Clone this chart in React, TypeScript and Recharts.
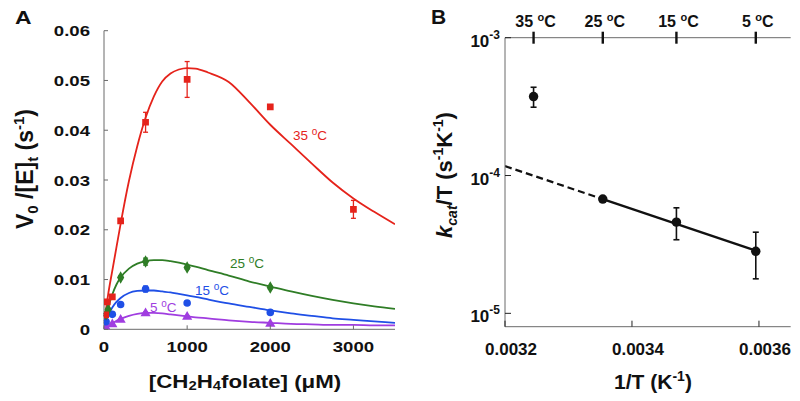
import { ComposedChart, ErrorBar, Line, Scatter, XAxis, YAxis, ZAxis } from "recharts"

// Panel A: fitted curves, read at these substrate concentrations (µM)
const curveSubstrate = [0, 25, 50, 100, 150, 200, 300, 400, 500, 600, 700, 800, 900, 1000, 1100, 1250, 1500, 1750, 2000, 2250, 2500, 2750, 3000, 3250, 3500]
const curve35 = [0, 0.004, 0.007, 0.0118, 0.0165, 0.0212, 0.0298, 0.0368, 0.0425, 0.0468, 0.0498, 0.0514, 0.0522, 0.0525, 0.0524, 0.0516, 0.0497, 0.0456, 0.0411, 0.0372, 0.0333, 0.0295, 0.0263, 0.0236, 0.0211]
const curve25 = [0, 0.0025, 0.0043, 0.007, 0.009, 0.0104, 0.0122, 0.0132, 0.0137, 0.0139, 0.0139, 0.0137, 0.0134, 0.013, 0.0126, 0.0119, 0.0108, 0.0096, 0.0086, 0.0076, 0.0067, 0.0059, 0.0052, 0.0046, 0.0041]
const curve15 = [0, 0.0016, 0.0028, 0.0044, 0.0055, 0.0063, 0.0073, 0.0077, 0.0078, 0.0078, 0.0076, 0.0074, 0.0071, 0.0068, 0.0065, 0.006, 0.0052, 0.0045, 0.0038, 0.0032, 0.0027, 0.0022, 0.0019, 0.0016, 0.0013]
const curve5 = [0, 0.0004, 0.0007, 0.0012, 0.0017, 0.0021, 0.0027, 0.0031, 0.0033, 0.0033, 0.0032, 0.003, 0.0028, 0.0026, 0.0024, 0.0022, 0.0018, 0.0015, 0.0013, 0.0011, 0.001, 0.0009, 0.0009, 0.0008, 0.0008]

// Panel A: measured points
const subst35 = [20, 40, 100, 200, 500, 1000, 2000, 3000]
const rate35 = [0.0029, 0.0055, 0.0065, 0.0218, 0.0416, 0.0502, 0.0447, 0.0241]
const err35 = [0.0002, 0.0002, 0.0002, 0.0004, 0.002, 0.0036, 0.0003, 0.0018]
const subst25 = [25, 50, 200, 500, 1000, 2000]
const rate25 = [0.003, 0.004, 0.0104, 0.0136, 0.0124, 0.0084]
const err25 = [0.0002, 0.0002, 0.0003, 0.0007, 0.0003, 0.0003]
const subst15 = [25, 100, 200, 500, 1000, 2000]
const rate15 = [0.0015, 0.003, 0.005, 0.0081, 0.0053, 0.0034]
const err15 = [0.0002, 0.0002, 0.0002, 0.0006, 0.0003, 0.0002]
const subst5 = [25, 100, 200, 500, 1000, 2000]
const rate5 = [0.0003, 0.001, 0.0019, 0.0032, 0.0025, 0.0011]
const err5 = [0.0001, 0.0001, 0.0002, 0.0003, 0.0002, 0.0002]

const xTicksA = [0, 1000, 2000, 3000]
const yTicksA = [0, 0.01, 0.02, 0.03, 0.04, 0.05, 0.06]

// Panel B: Eyring plot
const invT = [0.003245, 0.003354, 0.00347, 0.003595]
const kcatOverT = [3.74e-4, 6.75e-5, 4.59e-5, 2.82e-5]
const kcatErrLow = [0.61e-4, 0, 1.17e-5, 1.04e-5]
const kcatErrHigh = [0.63e-4, 0, 1.24e-5, 1.06e-5]
const fitSolidX = [0.003354, 0.003595]
const fitSolidY = [6.75e-5, 2.85e-5]
const fitDashX = [0.0032, 0.003354]
const fitDashY = [1.17e-4, 6.75e-5]
const xTicksB = [0.0032, 0.0034, 0.0036]
const yTicksB = [1e-5, 1e-4, 1e-3]
const tempTickPos = [0.003245, 0.003354, 0.00347, 0.003595]
const tempTickLabels = ["35", "25", "15", "5"]

const RED = "#e5231b"
const GREEN = "#2f7d26"
const BLUE = "#1f4fe6"
const PURPLE = "#a03de0"
const BOX = "#6b6b6b"
const INK = "#111"
const STRETCH = 1.24 // panel A text is horizontally widened in the original

const font = "'Liberation Sans', Arial, sans-serif"

const curveData = curveSubstrate.map((x, i) => ({
  x,
  c35: curve35[i],
  c25: curve25[i],
  c15: curve15[i],
  c5: curve5[i],
}))

const pts = (xs: number[], ys: number[], es: number[]) => xs.map((x, i) => ({ x, y: ys[i], e: es[i] }))

const pointsB = invT.map((x, i) => ({ x, y: kcatOverT[i], e: [kcatErrLow[i], kcatErrHigh[i]] }))
const solidB = fitSolidX.map((x, i) => ({ x, y: fitSolidY[i] }))
const dashB = fitDashX.map((x, i) => ({ x, y: fitDashY[i] }))

// tick with an inward mark; label drawn by renderLabel
function InTick(props: any) {
  const { x, y, payload, side, gap = 0, markLen = 4, markColor = BOX, markWidth = 1, renderLabel } = props
  let line = null
  if (side === "left") line = <line x1={x + gap} x2={x + gap + markLen} y1={y} y2={y} />
  if (side === "right") line = <line x1={x - gap} x2={x - gap - markLen} y1={y} y2={y} />
  if (side === "bottom") line = <line x1={x} x2={x} y1={y - gap} y2={y - gap - markLen} />
  if (side === "top") line = <line x1={x} x2={x} y1={y + gap} y2={y + gap + markLen} />
  return (
    <g>
      <g stroke={markColor} strokeWidth={markWidth}>
        {line}
      </g>
      {renderLabel ? renderLabel(x, y, payload.value) : null}
    </g>
  )
}

const labelA = (anchor: "end" | "middle", dy: number) => (x: number, y: number, v: number) => (
  <text
    transform={`translate(${x} ${y + dy}) scale(${STRETCH} 1)`}
    textAnchor={anchor}
    fontFamily={font}
    fontWeight={700}
    fontSize={15}
    fill={INK}
  >
    {v === 0 ? "0" : anchor === "end" ? v.toFixed(2) : String(v)}
  </text>
)

const logLabel = (x: number, y: number, v: number) => (
  <text x={x} y={y + 9} textAnchor="end" fontFamily={font} fontWeight={700} fontSize={17} fill={INK}>
    10
    <tspan dy={-8} fontSize={12}>
      {Math.round(Math.log10(v))}
    </tspan>
  </text>
)

const bottomLabelB = (x: number, y: number, v: number) => (
  <text x={x + 6} y={y + 12} textAnchor="middle" fontFamily={font} fontWeight={700} fontSize={17} fill={INK}>
    {v.toFixed(4)}
  </text>
)

function TempTick(props: any) {
  const { x, y, payload } = props
  const i = tempTickPos.indexOf(payload.value)
  return (
    <g>
      <line x1={x} x2={x} y1={y - 6} y2={y + 6} stroke={INK} strokeWidth={2.4} />
      <text x={x + 2} y={y - 11} textAnchor="middle" fontFamily={font} fontWeight={700} fontSize={16} fill={INK}>
        {tempTickLabels[i]}{" "}
        <tspan dy={-6} fontSize={11}>
          o
        </tspan>
        <tspan dy={6}>C</tspan>
      </text>
    </g>
  )
}

function PanelA() {
  return (
    <ComposedChart width={400} height={401} margin={{ top: 30.7, right: 5, bottom: 31.7, left: 0 }}>
      <ZAxis range={[45, 45]} />
      <XAxis
        xAxisId={0}
        dataKey="x"
        type="number"
        domain={[0, 3500]}
        allowDataOverflow
        ticks={xTicksA}
        interval={0}
        height={40}
        tickSize={0}
        tickMargin={12}
        tickLine={false}
        tick={<InTick side="bottom" gap={12} renderLabel={labelA("middle", 11)} />}
        axisLine={{ stroke: BOX }}
      />
      <XAxis
        xAxisId="top"
        orientation="top"
        dataKey="x"
        type="number"
        domain={[0, 3500]}
        allowDataOverflow
        ticks={[1000, 2000, 3000]}
        interval={0}
        height={0}
        tickSize={0}
        tickMargin={0}
        tickLine={false}
        tick={<InTick side="top" gap={0} />}
        axisLine={{ stroke: BOX }}
      />
      <YAxis
        yAxisId={0}
        dataKey="y"
        type="number"
        domain={[0, 0.06]}
        allowDataOverflow
        ticks={yTicksA}
        interval={0}
        width={104}
        tickSize={0}
        tickMargin={14}
        tickLine={false}
        tick={<InTick side="left" gap={14} renderLabel={labelA("end", 5.5)} />}
        axisLine={{ stroke: BOX }}
      />
      <YAxis
        yAxisId="right"
        orientation="right"
        type="number"
        domain={[0, 0.06]}
        allowDataOverflow
        ticks={yTicksA}
        interval={0}
        width={0}
        tickSize={0}
        tickMargin={0}
        tickLine={false}
        tick={<InTick side="right" gap={0} />}
        axisLine={{ stroke: BOX }}
      />
      <Line xAxisId="top" yAxisId="right" data={curveData} dataKey="c35" type="monotone" stroke={RED} strokeWidth={1.8} dot={false} activeDot={false} isAnimationActive={false} />
      <Line data={curveData} dataKey="c25" type="monotone" stroke={GREEN} strokeWidth={1.8} dot={false} activeDot={false} isAnimationActive={false} />
      <Line data={curveData} dataKey="c15" type="monotone" stroke={BLUE} strokeWidth={1.8} dot={false} activeDot={false} isAnimationActive={false} />
      <Line data={curveData} dataKey="c5" type="monotone" stroke={PURPLE} strokeWidth={1.8} dot={false} activeDot={false} isAnimationActive={false} />
      <Scatter data={pts(subst5, rate5, err5)} fill={PURPLE} shape="triangle" isAnimationActive={false}>
        <ErrorBar dataKey="e" direction="y" width={2.5} stroke={PURPLE} strokeWidth={1.3} isAnimationActive={false} />
      </Scatter>
      <Scatter data={pts(subst15, rate15, err15)} fill={BLUE} shape="circle" isAnimationActive={false}>
        <ErrorBar dataKey="e" direction="y" width={2.5} stroke={BLUE} strokeWidth={1.3} isAnimationActive={false} />
      </Scatter>
      <Scatter data={pts(subst25, rate25, err25)} fill={GREEN} shape="diamond" isAnimationActive={false}>
        <ErrorBar dataKey="e" direction="y" width={2.5} stroke={GREEN} strokeWidth={1.3} isAnimationActive={false} />
      </Scatter>
      <Scatter data={pts(subst35, rate35, err35)} fill={RED} shape="square" isAnimationActive={false}>
        <ErrorBar dataKey="e" direction="y" width={2.5} stroke={RED} strokeWidth={1.3} isAnimationActive={false} />
      </Scatter>
    </ComposedChart>
  )
}

function PanelB() {
  return (
    <ComposedChart width={400} height={401} margin={{ top: 7.7, right: 9.3, bottom: 34.3, left: 0 }}>
      <ZAxis range={[70, 70]} />
      <XAxis
        xAxisId={0}
        dataKey="x"
        type="number"
        domain={[0.0032, 0.00365]}
        allowDataOverflow
        ticks={xTicksB}
        interval={0}
        height={40}
        tickSize={0}
        tickMargin={16.6}
        tickLine={false}
        tick={<InTick side="bottom" gap={16.6} markLen={6} markColor="#222" renderLabel={bottomLabelB} />}
        axisLine={{ stroke: BOX }}
      />
      <XAxis
        xAxisId="top"
        orientation="top"
        dataKey="x"
        type="number"
        domain={[0.0032, 0.00365]}
        allowDataOverflow
        ticks={tempTickPos}
        interval={0}
        height={30}
        tickSize={0}
        tickMargin={0}
        tickLine={false}
        tick={<TempTick />}
        axisLine={{ stroke: BOX }}
      />
      <YAxis
        yAxisId={0}
        dataKey="y"
        type="number"
        scale="log"
        domain={[8e-6, 1e-3]}
        allowDataOverflow
        ticks={yTicksB}
        interval={0}
        width={105}
        tickSize={0}
        tickMargin={5}
        tickLine={false}
        tick={<InTick side="left" gap={5} markLen={6} markColor="#222" renderLabel={logLabel} />}
        axisLine={{ stroke: BOX }}
      />
      <YAxis
        yAxisId="right"
        orientation="right"
        dataKey="y"
        type="number"
        scale="log"
        domain={[8e-6, 1e-3]}
        allowDataOverflow
        ticks={yTicksB}
        interval={0}
        width={0}
        tickSize={0}
        tickMargin={0}
        tickLine={false}
        tick={<InTick side="right" gap={0} markLen={4} markColor="#222" />}
        axisLine={{ stroke: BOX }}
      />
      <Line xAxisId="top" yAxisId="right" data={dashB} dataKey="y" type="linear" stroke={INK} strokeWidth={2.2} strokeDasharray="7 4" dot={false} activeDot={false} isAnimationActive={false} />
      <Line data={solidB} dataKey="y" type="linear" stroke={INK} strokeWidth={2.4} dot={false} activeDot={false} isAnimationActive={false} />
      <Scatter data={pointsB} fill={INK} shape="circle" isAnimationActive={false}>
        <ErrorBar dataKey="e" direction="y" width={3} stroke={INK} strokeWidth={1.6} isAnimationActive={false} />
      </Scatter>
    </ComposedChart>
  )
}

function Degree({ label, x, y, color }: { label: string; x: number; y: number; color: string }) {
  return (
    <text x={x} y={y} fontFamily={font} fontSize={13.5} fill={color}>
      {label}{" "}
      <tspan dy={-5} fontSize={10}>
        o
      </tspan>
      <tspan dy={5}>C</tspan>
    </text>
  )
}

function Overlay() {
  return (
    <svg width={800} height={401} style={{ position: "absolute", left: 0, top: 0, pointerEvents: "none" }}>
      <text transform={`translate(15 23.5) scale(${STRETCH} 1)`} fontFamily={font} fontWeight={700} fontSize={18.5} fill={INK}>
        A
      </text>
      <text x={431} y={23.5} fontFamily={font} fontWeight={700} fontSize={21} fill={INK}>
        B
      </text>

      {/* panel A axis titles */}
      <text x={33} y={169} transform="rotate(-90, 33, 169)" textAnchor="middle" fontFamily={font} fontWeight={700} fontSize={23} fill={INK}>
        V<tspan dy={5} fontSize={15}>0</tspan>
        <tspan dy={-5}> /[E]</tspan>
        <tspan dy={5} fontSize={15}>t</tspan>
        <tspan dy={-5}> (s</tspan>
        <tspan dy={-9} fontSize={15}>-1</tspan>
        <tspan dy={9}>)</tspan>
      </text>
      <text transform={`translate(245 388) scale(${STRETCH} 1)`} textAnchor="middle" fontFamily={font} fontWeight={700} fontSize={18} fill={INK}>
        [CH<tspan dy={2} fontSize={12}>2</tspan>
        <tspan dy={-2}>H</tspan>
        <tspan dy={2} fontSize={12}>4</tspan>
        <tspan dy={-2}>folate] (μM)</tspan>
      </text>

      {/* series labels in panel A */}
      <Degree label="35" x={293} y={140} color={RED} />
      <Degree label="25" x={230} y={268} color={GREEN} />
      <Degree label="15" x={195} y={295} color={BLUE} />
      <Degree label="5" x={150} y={311.5} color={PURPLE} />

      {/* panel B axis titles */}
      <text x={452} y={175} transform="rotate(-90, 452, 175)" textAnchor="middle" fontFamily={font} fontWeight={700} fontSize={22} fill={INK}>
        <tspan fontStyle="italic">k</tspan>
        <tspan dy={5} fontSize={14} fontStyle="italic">cat</tspan>
        <tspan dy={-5}>/T (s</tspan>
        <tspan dy={-9} fontSize={14}>-1</tspan>
        <tspan dy={9}>K</tspan>
        <tspan dy={-9} fontSize={14}>-1</tspan>
        <tspan dy={9}>)</tspan>
      </text>
      <text x={653} y={389} textAnchor="middle" fontFamily={font} fontWeight={700} fontSize={21} fill={INK}>
        1/T (K<tspan dy={-8} fontSize={14}>-1</tspan>
        <tspan dy={8}>)</tspan>
      </text>
    </svg>
  )
}

export default function App() {
  return (
    <div style={{ position: "absolute", left: 0, top: 0, width: 800, height: 401, background: "#fff" }}>
      <div style={{ position: "absolute", left: 0, top: 0 }}>
        <PanelA />
      </div>
      <div style={{ position: "absolute", left: 400, top: 0 }}>
        <PanelB />
      </div>
      <Overlay />
    </div>
  )
}
